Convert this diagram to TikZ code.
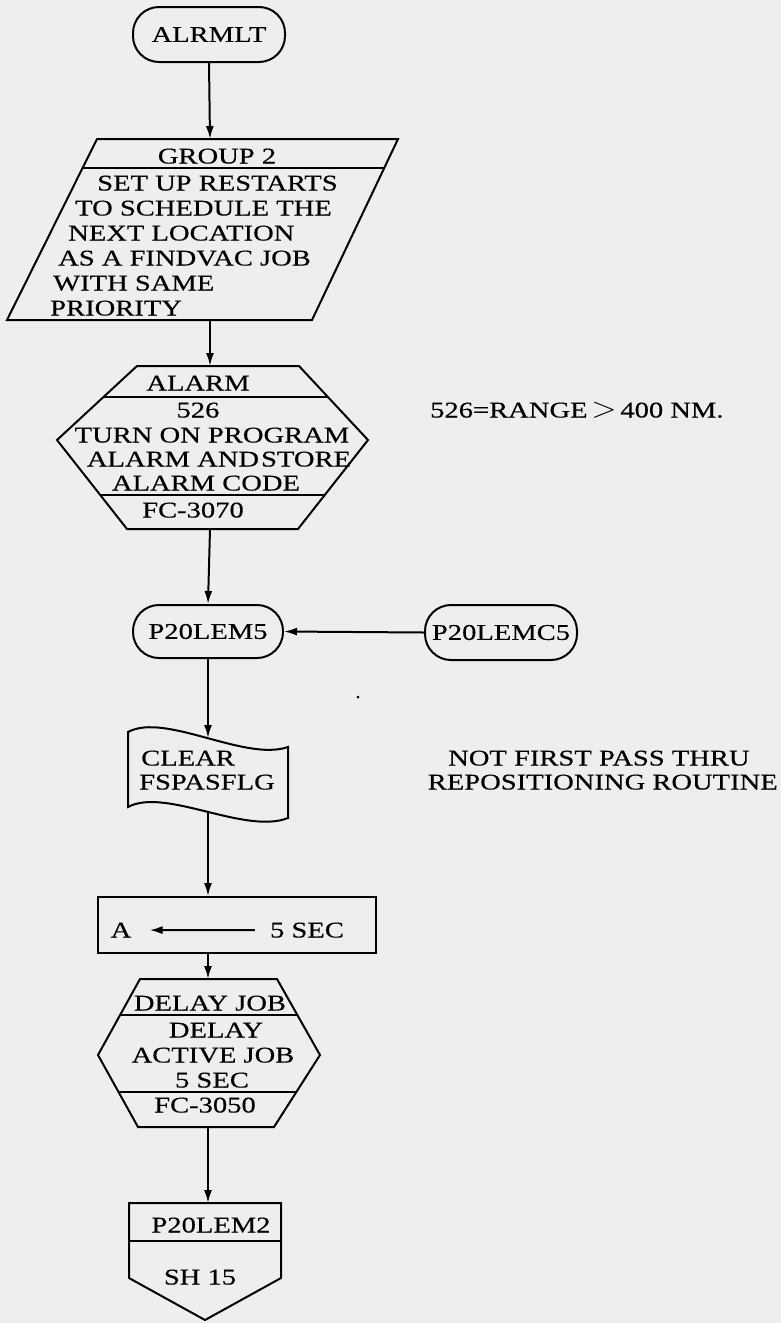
\documentclass[tikz,border=0pt]{standalone}
\usepackage{fontspec}
\setmainfont{Liberation Serif}[FakeStretch=1.27, FakeBold=0.4]
\usetikzlibrary{arrows.meta}
\definecolor{paper}{RGB}{238,238,238}
\tikzset{
  flow/.style={line width=2pt},
  link/.style={flow, -{Latex[length=13pt,width=8pt]}},
  term/.style={draw, flow, rectangle, rounded corners=26pt, minimum height=55pt},
  txt/.style={inner sep=0pt, font=\fontsize{22.5}{24.5}\selectfont},
}
\begin{document}
\begin{tikzpicture}[x=1pt, y=-1pt, every node/.style={txt}]
    % 用紙
    \fill[paper] (0,0) rectangle (781,1323);
    \useasboundingbox (0,0) rectangle (781,1323);

    % 端子
    \node[term, minimum width=152pt] (alrmlt) at (209,34.5) {ALRMLT};
    \node[term, minimum width=150pt, minimum height=53pt] (lem5) at (208,631.5) {P20LEM5};
    \node[term, minimum width=152pt] (lemc5) at (501,632.5) {P20LEMC5};

    % 入出力（平行四辺形）
    \draw[flow] (97,139) -- (398,139) -- (312,320) -- (7,320) -- cycle;
    \draw[flow] (82.6,168) -- (384.2,168);
    \coordinate (grp-n) at (210,139);
    \coordinate (grp-s) at (210,320);
    \node[anchor=base] (grp-0) at (217,163.5) {GROUP 2};
    \foreach \x/\t [count=\i] in {97/SET UP RESTARTS, 75/TO SCHEDULE THE,
        68/NEXT LOCATION, 58/AS A FINDVAC JOB, 53/WITH SAME, 50/PRIORITY}
      \node[anchor=base west] (grp-\i) at (\x,165.5+25*\i) {\t};

    % ALARM（六角形）
    \draw[flow] (137,366) -- (299,366) -- (368,440) -- (298,529) -- (127,529) -- (57,440) -- cycle;
    \draw[flow] (103.5,397) -- (328,397);
    \draw[flow] (100.3,495) -- (325,495);
    \coordinate (al-n) at (210,366);
    \coordinate (al-s) at (210,529);
    \foreach \x/\y/\t [count=\i] in {198/390.5/ALARM, 198/417.5/526,
        212/442.5/TURN ON PROGRAM, 219/466.5/ALARM AND\kern2pt STORE,
        206/490.5/ALARM CODE, 193/517.5/FC-3070}
      \node[anchor=base] (al-\i) at (\x,\y) {\t};
    \node[anchor=base west] (note1) at (430,417.5)
      {526=RANGE\,\scalebox{1.6}[1.4]{$>$}\,400 NM.};

    % 紙テープ
    \draw[flow] (128,732) .. controls (165,712) and (245,762) .. (288,747) -- (288,818)
      .. controls (245,835) and (165,787) .. (128,807) -- cycle;
    \coordinate (clr-n) at (208,738);
    \coordinate (clr-s) at (208,812);
    \node[anchor=base west] (clr-1) at (141,765.5) {CLEAR};
    \node[anchor=base west] (clr-2) at (139,789.5) {FSPASFLG};
    \node[anchor=base west] (note2) at (448,765.5) {NOT FIRST PASS THRU};
    \node[anchor=base east] (note3) at (778,789.5) {REPOSITIONING ROUTINE};
    \fill (358,697) circle (1.5);

    % 代入
    \node[draw, flow, minimum width=278pt, minimum height=56pt] (abox) at (237,925) {};
    \node[anchor=base] (a) at (121,937.5) {A};
    \node[anchor=base] (sec) at (307,937.5) {5 SEC};
    \draw[link, shorten <=15pt, shorten >=18pt] (sec.west) -- (a.east);

    % DELAY JOB（六角形）
    \draw[flow] (140,979) -- (277,979) -- (320,1055) -- (274,1127) -- (138,1127) -- (98,1055) -- cycle;
    \draw[flow] (120,1015) -- (297.4,1015);
    \draw[flow] (118.6,1092) -- (296.4,1092);
    \coordinate (dly-n) at (208,979);
    \coordinate (dly-s) at (208,1127);
    \foreach \x/\y/\t [count=\i] in {210/1010.5/DELAY JOB, 216/1037.5/DELAY,
        213/1062.5/ACTIVE JOB, 212/1087.5/5 SEC, 205/1112.5/FC-3050}
      \node[anchor=base] (dly-\i) at (\x,\y) {\t};

    % ページ外結合子
    \draw[flow] (129,1203) -- (281,1203) -- (281,1278) -- (205,1320) -- (129,1278) -- cycle;
    \draw[flow] (129,1241) -- (281,1241);
    \coordinate (pg-n) at (208,1203);
    \node[anchor=base] (pg-1) at (211,1232.5) {P20LEM2};
    \node[anchor=base] (pg-2) at (200,1284.5) {SH 15};

    % 流れ線
    \draw[link] (alrmlt.south) -- (grp-n);
    \draw[link] (grp-s) -- (al-n);
    \draw[link] (al-s) -- (lem5.north);
    \draw[link] (lemc5.west) -- (lem5.east);
    \draw[link] (lem5.south) -- (clr-n);
    \draw[link] (clr-s) -- (clr-s |- abox.north);
    \draw[link] (abox.south -| dly-n) -- (dly-n);
    \draw[link] (dly-s) -- (pg-n);
\end{tikzpicture}
\end{document}
